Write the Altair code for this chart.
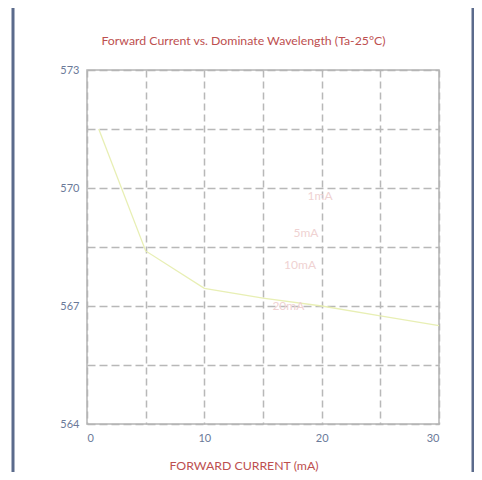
import altair as alt
import pandas as pd

current_ma = [1, 5, 10, 15, 20, 25, 30]
wavelength_nm = [571.5, 568.4, 567.45, 567.2, 567.0, 566.75, 566.5]

label_text = ["1mA", "5mA", "10mA", "20mA"]
label_x = [18.8, 17.6, 16.8, 15.8]
label_y = [569.8, 568.85, 568.05, 567.0]

y_ticks = [564, 565.5, 567, 568.5, 570, 571.5, 573]
x_ticks = [0, 5, 10, 15, 20, 25, 30]

title_text = "Forward Current vs. Dominate Wavelength (Ta-25°C)"

df = pd.DataFrame({"x": current_ma, "y": wavelength_nm})
lab = pd.DataFrame({"x": label_x, "y": label_y, "t": label_text})
one = pd.DataFrame({"a": [0]})

W, H = 352, 354
red = "#bd4f4f"
axis_grey = "#6b7a99"
grid_grey = "#b8b8b8"

xs = alt.Scale(domain=[0, 30], nice=False)
ys = alt.Scale(domain=[564, 573], nice=False, zero=False)

frame = alt.Chart(one).mark_rect(
    fillOpacity=0, stroke="#5b6b8c", strokeWidth=3
).encode(
    x=alt.value(-74), x2=alt.value(386), y=alt.value(-64.5), y2=alt.value(440)
)

plot_border = alt.Chart(one).mark_rect(
    fillOpacity=0, stroke="#b4b4b4", strokeWidth=1.5
).encode(x=alt.value(0), x2=alt.value(W), y=alt.value(0), y2=alt.value(H))

title = alt.Chart(one).mark_text(
    text=title_text, color=red, fontSize=12.3, font="Lato", align="center", baseline="middle"
).encode(x=alt.value(156.5), y=alt.value(-29))

line = alt.Chart(df).mark_line(color="#e8efb4", strokeWidth=1.3).encode(
    x=alt.X("x:Q", scale=xs,
            axis=alt.Axis(values=x_ticks, labelExpr="datum.value % 10 == 0 ? datum.label : ''",
                          title="FORWARD CURRENT (mA)", titleColor=red, titleFontSize=12.3,
                          titleFontWeight="normal", titleFont="Lato", titlePadding=16,
                          titleX=156.5, titleAnchor="middle",
                          labelColor=axis_grey, labelFontSize=11, labelFont="Lato",
                          labelPadding=8, ticks=False, grid=True, gridDash=[7, 4],
                          gridColor=grid_grey, gridWidth=1.5, domain=False)),
    y=alt.Y("y:Q", scale=ys,
            axis=alt.Axis(values=y_ticks, labelExpr="datum.value % 3 == 0 ? datum.label : ''",
                          title=None, labelColor=axis_grey, labelFontSize=11, labelFont="Lato",
                          labelPadding=8, ticks=False, grid=True, gridDash=[8, 4],
                          gridColor=grid_grey, gridWidth=1.5, domain=False)),
)

labels = alt.Chart(lab).mark_text(
    align="left", baseline="middle", color="#efd2d2", fontSize=12, font="Lato"
).encode(x=alt.X("x:Q", scale=xs), y=alt.Y("y:Q", scale=ys), text="t:N")

chart = alt.layer(frame, plot_border, line, labels, title).properties(
    width=W, height=H,
    autosize=alt.AutoSizeParams(type="none"),
    padding={"left": 79, "top": 62, "right": 35, "bottom": 48},
    background="white",
).configure_view(strokeWidth=0)

chart.save("out.html", embed_options={"renderer": "svg", "actions": False})
